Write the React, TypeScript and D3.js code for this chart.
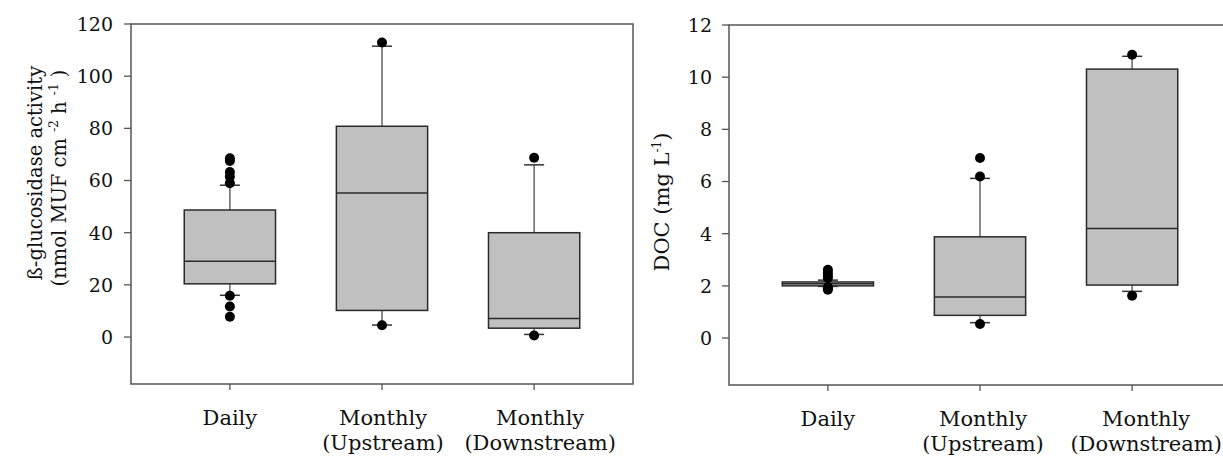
import React from "react";
import * as d3 from "d3";

const catLines: string[][] = [["Daily"], ["Monthly", "(Upstream)"], ["Monthly", "(Downstream)"]];

const glucQ1 = [20.4, 10.2, 3.4];
const glucMedian = [29.1, 55.2, 7.1];
const glucQ3 = [48.7, 80.8, 40.0];
const glucWhiskLo = [16.0, 4.6, 1.0];
const glucWhiskHi = [58.2, 111.5, 66.0];
const glucOutliers = [
  [68.5, 67.5, 63.3, 61.5, 59.0, 15.8, 11.7, 7.8],
  [112.9, 4.5],
  [68.7, 0.6],
];
const glucTicks = [0, 20, 40, 60, 80, 100, 120];

const docQ1 = [2.0, 0.87, 2.03];
const docMedian = [2.08, 1.57, 4.2];
const docQ3 = [2.15, 3.88, 10.31];
const docWhiskLo = [1.98, 0.59, 1.79];
const docWhiskHi = [2.22, 6.12, 10.8];
const docOutliers = [
  [2.62, 2.5, 2.4, 2.3, 1.95, 1.9, 1.85],
  [6.9, 6.19, 0.54],
  [10.86, 1.62],
];
const docTicks = [0, 2, 4, 6, 8, 10, 12];

const FONT = "DejaVu Serif";

type PanelProps = {
  left: number;
  top: number;
  width: number;
  height: number;
  domain: [number, number];
  ticks: number[];
  q1: number[];
  med: number[];
  q3: number[];
  wlo: number[];
  whi: number[];
  outliers: number[][];
  labelDx: number[];
  tickGap: number;
};

function Panel(p: PanelProps) {
  const x = d3
    .scalePoint<number>()
    .domain([0, 1, 2])
    .range([p.left, p.left + p.width])
    .padding(0.65);
  const y = d3.scaleLinear().domain(p.domain).range([p.top + p.height, p.top]);
  const boxW = x.step() * 0.6;
  const capW = 20;
  const bottom = p.top + p.height;
  return (
    <g>
      <rect x={p.left} y={p.top} width={p.width} height={p.height} fill="none" stroke="#555" strokeWidth={1.5} />
      {p.ticks.map((t) => (
        <g key={t}>
          <line x1={p.left - 7} x2={p.left} y1={y(t)} y2={y(t)} stroke="#555" strokeWidth={1.3} />
          <text x={p.left - p.tickGap} y={y(t)} dy="0.36em" textAnchor="end" fontFamily={FONT} fontSize={19} fill="#111">
            {t}
          </text>
        </g>
      ))}
      {catLines.map((lines, i) => (
        <g key={i}>
          <line x1={x(i)!} x2={x(i)!} y1={bottom} y2={bottom + 6} stroke="#555" strokeWidth={1.3} />
          {lines.map((ln, j) => (
            <text
              key={j}
              x={x(i)! + p.labelDx[i]}
              y={bottom + 41 + j * 25}
              textAnchor="middle"
              fontFamily={FONT}
              fontSize={21}
              fill="#111"
            >
              {ln}
            </text>
          ))}
        </g>
      ))}
      {catLines.map((_, i) => {
        const cx = x(i)!;
        return (
          <g key={"b" + i}>
            <line x1={cx} x2={cx} y1={y(p.q3[i])} y2={y(p.whi[i])} stroke="#666" strokeWidth={1.5} />
            <line x1={cx} x2={cx} y1={y(p.q1[i])} y2={y(p.wlo[i])} stroke="#666" strokeWidth={1.5} />
            <line x1={cx - capW / 2} x2={cx + capW / 2} y1={y(p.whi[i])} y2={y(p.whi[i])} stroke="#333" strokeWidth={1.5} />
            <line x1={cx - capW / 2} x2={cx + capW / 2} y1={y(p.wlo[i])} y2={y(p.wlo[i])} stroke="#333" strokeWidth={1.5} />
            <rect
              x={cx - boxW / 2}
              y={y(p.q3[i])}
              width={boxW}
              height={Math.max(0, y(p.q1[i]) - y(p.q3[i]))}
              fill="#c0c0c0"
              stroke="#2a2a2a"
              strokeWidth={1.5}
            />
            <line x1={cx - boxW / 2} x2={cx + boxW / 2} y1={y(p.med[i])} y2={y(p.med[i])} stroke="#2a2a2a" strokeWidth={1.5} />
            {p.outliers[i].map((v, k) => (
              <circle key={k} cx={cx} cy={y(v)} r={5} fill="#000" />
            ))}
          </g>
        );
      })}
    </g>
  );
}

export default function App() {
  return (
    <svg
      width={1223}
      height={459}
      style={{ position: "absolute", left: 0, top: 0, display: "block", background: "#fff" }}
    >
      <rect x={0} y={0} width={1223} height={459} fill="#fff" />
      <Panel
        left={131}
        top={24}
        width={502}
        height={360}
        domain={[-18, 120]}
        ticks={glucTicks}
        q1={glucQ1}
        med={glucMedian}
        q3={glucQ3}
        wlo={glucWhiskLo}
        whi={glucWhiskHi}
        outliers={glucOutliers}
        labelDx={[0, 1, 6]}
        tickGap={18}
      />
      <Panel
        left={729}
        top={25}
        width={502}
        height={360}
        domain={[-1.8, 12]}
        ticks={docTicks}
        q1={docQ1}
        med={docMedian}
        q3={docQ3}
        wlo={docWhiskLo}
        whi={docWhiskHi}
        outliers={docOutliers}
        labelDx={[0, 3, 14]}
        tickGap={17}
      />
      <text transform="translate(42,173) rotate(-90)" textAnchor="middle" fontFamily={FONT} fontSize={19.5} fill="#111">
        ß-glucosidase activity
      </text>
      <text transform="translate(66,178) rotate(-90)" textAnchor="middle" fontFamily={FONT} fontSize={19.5} fill="#111">
        (nmol MUF cm{" "}
        <tspan fontSize={12} dy={-8}>-2</tspan>
        <tspan dy={8}> h </tspan>
        <tspan fontSize={12} dy={-8}>-1</tspan>
        <tspan dy={8}> )</tspan>
      </text>
      <text transform="translate(669,202) rotate(-90)" textAnchor="middle" fontFamily={FONT} fontSize={21} fill="#111">
        DOC (mg L
        <tspan fontSize={12} dy={-8}>-1</tspan>
        <tspan dy={8}>)</tspan>
      </text>
    </svg>
  );
}
